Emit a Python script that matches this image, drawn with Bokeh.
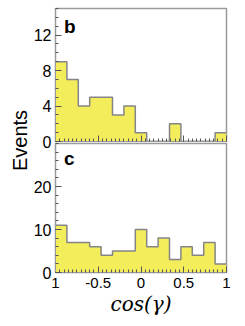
import numpy as np
from bokeh.plotting import figure
from bokeh.layouts import column, row
from bokeh.models import Range1d, SingleIntervalTicker, FixedTicker, Label, CustomJSTickFormatter
from bokeh.core.properties import value
from bokeh.embed import file_html
from bokeh.resources import INLINE

# ---- data ----
bin_edges = list(np.linspace(-1, 1, 16))
counts_b = [9, 7, 4, 5, 5, 3, 4, 1, 0, 0, 2, 0, 0, 0, 1]
counts_c = [11, 7, 7, 6, 4, 5, 5, 10, 6, 8, 3, 6, 4, 7, 2]
y_ticks_b = [0, 4, 8, 12]
y_ticks_c = [0, 10, 20]
x_tick_labels = {-1: "1", -0.5: "-0.5", 0: "0", 0.5: "0.5", 1: "1"}
y_title = "Events"
x_title = "cos(γ)"

FILL = "#F3EC5B"
EDGE = "#858585"
FRAME = "#9a9a9a"
TICK = "#555555"


def make_panel(counts, ymax, yticks, yminor_step, letter, letter_y, height, top_border,
               bottom_border, show_x_labels):
    p = figure(width=204, height=height, output_backend="svg", toolbar_location=None,
               x_range=Range1d(-1, 1), y_range=Range1d(0, ymax),
               min_border_left=25, min_border_right=8, min_border_top=top_border,
               min_border_bottom=bottom_border)
    p.grid.visible = False
    p.outline_line_color = FRAME
    p.outline_line_width = 1.5
    steps = list(counts) + [counts[-1]]
    p.varea_step(x=bin_edges, y1=[0] * len(bin_edges), y2=steps, step_mode="after",
                 fill_color=FILL)
    p.step(x=bin_edges, y=steps, mode="after", line_color=EDGE, line_width=1.5)

    ya = p.yaxis[0]
    ya.ticker = FixedTicker(ticks=yticks,
                            minor_ticks=list(np.arange(0, ymax + 0.01, yminor_step)))
    ya.axis_line_color = FRAME
    ya.major_tick_in = 6
    ya.major_tick_out = 0
    ya.minor_tick_in = 3
    ya.minor_tick_out = 0
    ya.major_tick_line_color = TICK
    ya.minor_tick_line_color = TICK
    ya.major_label_text_font = "Liberation Sans"
    ya.major_label_text_font_size = "16px"
    ya.major_label_text_color = "black"
    ya.major_label_standoff = 4

    xa = p.xaxis[0]
    xa.ticker = SingleIntervalTicker(interval=0.5, num_minor_ticks=10)
    xa.axis_line_color = FRAME
    xa.major_tick_in = 6
    xa.major_tick_out = 0
    xa.minor_tick_in = 3
    xa.minor_tick_out = 0
    xa.major_tick_line_color = TICK
    xa.minor_tick_line_color = TICK
    if show_x_labels:
        xa.major_label_text_font = "Liberation Sans"
        xa.major_label_text_font_size = "15px"
        xa.major_label_text_color = "black"
        xa.major_label_standoff = 5
        xa.major_label_overrides = x_tick_labels
        xa.axis_label = x_title
        xa.axis_label_text_font = "DejaVu Serif"
        xa.axis_label_text_font_style = "italic"
        xa.axis_label_text_font_size = "20px"
        xa.axis_label_text_color = "black"
        xa.axis_label_standoff = 1
    else:
        xa.formatter = CustomJSTickFormatter(code="return ''")
        xa.major_label_standoff = 0

    p.add_layout(Label(x=-0.9, y=letter_y, text=letter, text_font="Liberation Sans",
                       text_font_style="bold", text_font_size="19px",
                       text_baseline="alphabetic", text_align="left", text_color="black"))
    return p


top = make_panel(counts_b, 15, y_ticks_b, 1, "b", 12.97, 181, 8, 40, False)
bottom = make_panel(counts_c, 30, y_ticks_c, 2, "c", 26.6, 175, 0, 42, True)
bottom.border_fill_alpha = 0
bottom.margin = (-38, 0, 0, 0)

# narrow strip carrying the shared y-axis title
ttl = figure(width=30, height=318, output_backend="svg", toolbar_location=None,
             x_range=Range1d(0, 30), y_range=Range1d(318, 0),
             min_border=0, outline_line_color=None)
ttl.axis.visible = False
ttl.grid.visible = False
ttl.text(x=[19.5], y=[140], text=[y_title], angle=np.pi / 2, text_align="center",
         text_baseline="middle", text_font=value("Liberation Sans"),
         text_font_size="20px", text_color="black")

layout = row(ttl, column(top, bottom, spacing=0), spacing=0)
open("out.html", "w").write(file_html(layout, INLINE))
